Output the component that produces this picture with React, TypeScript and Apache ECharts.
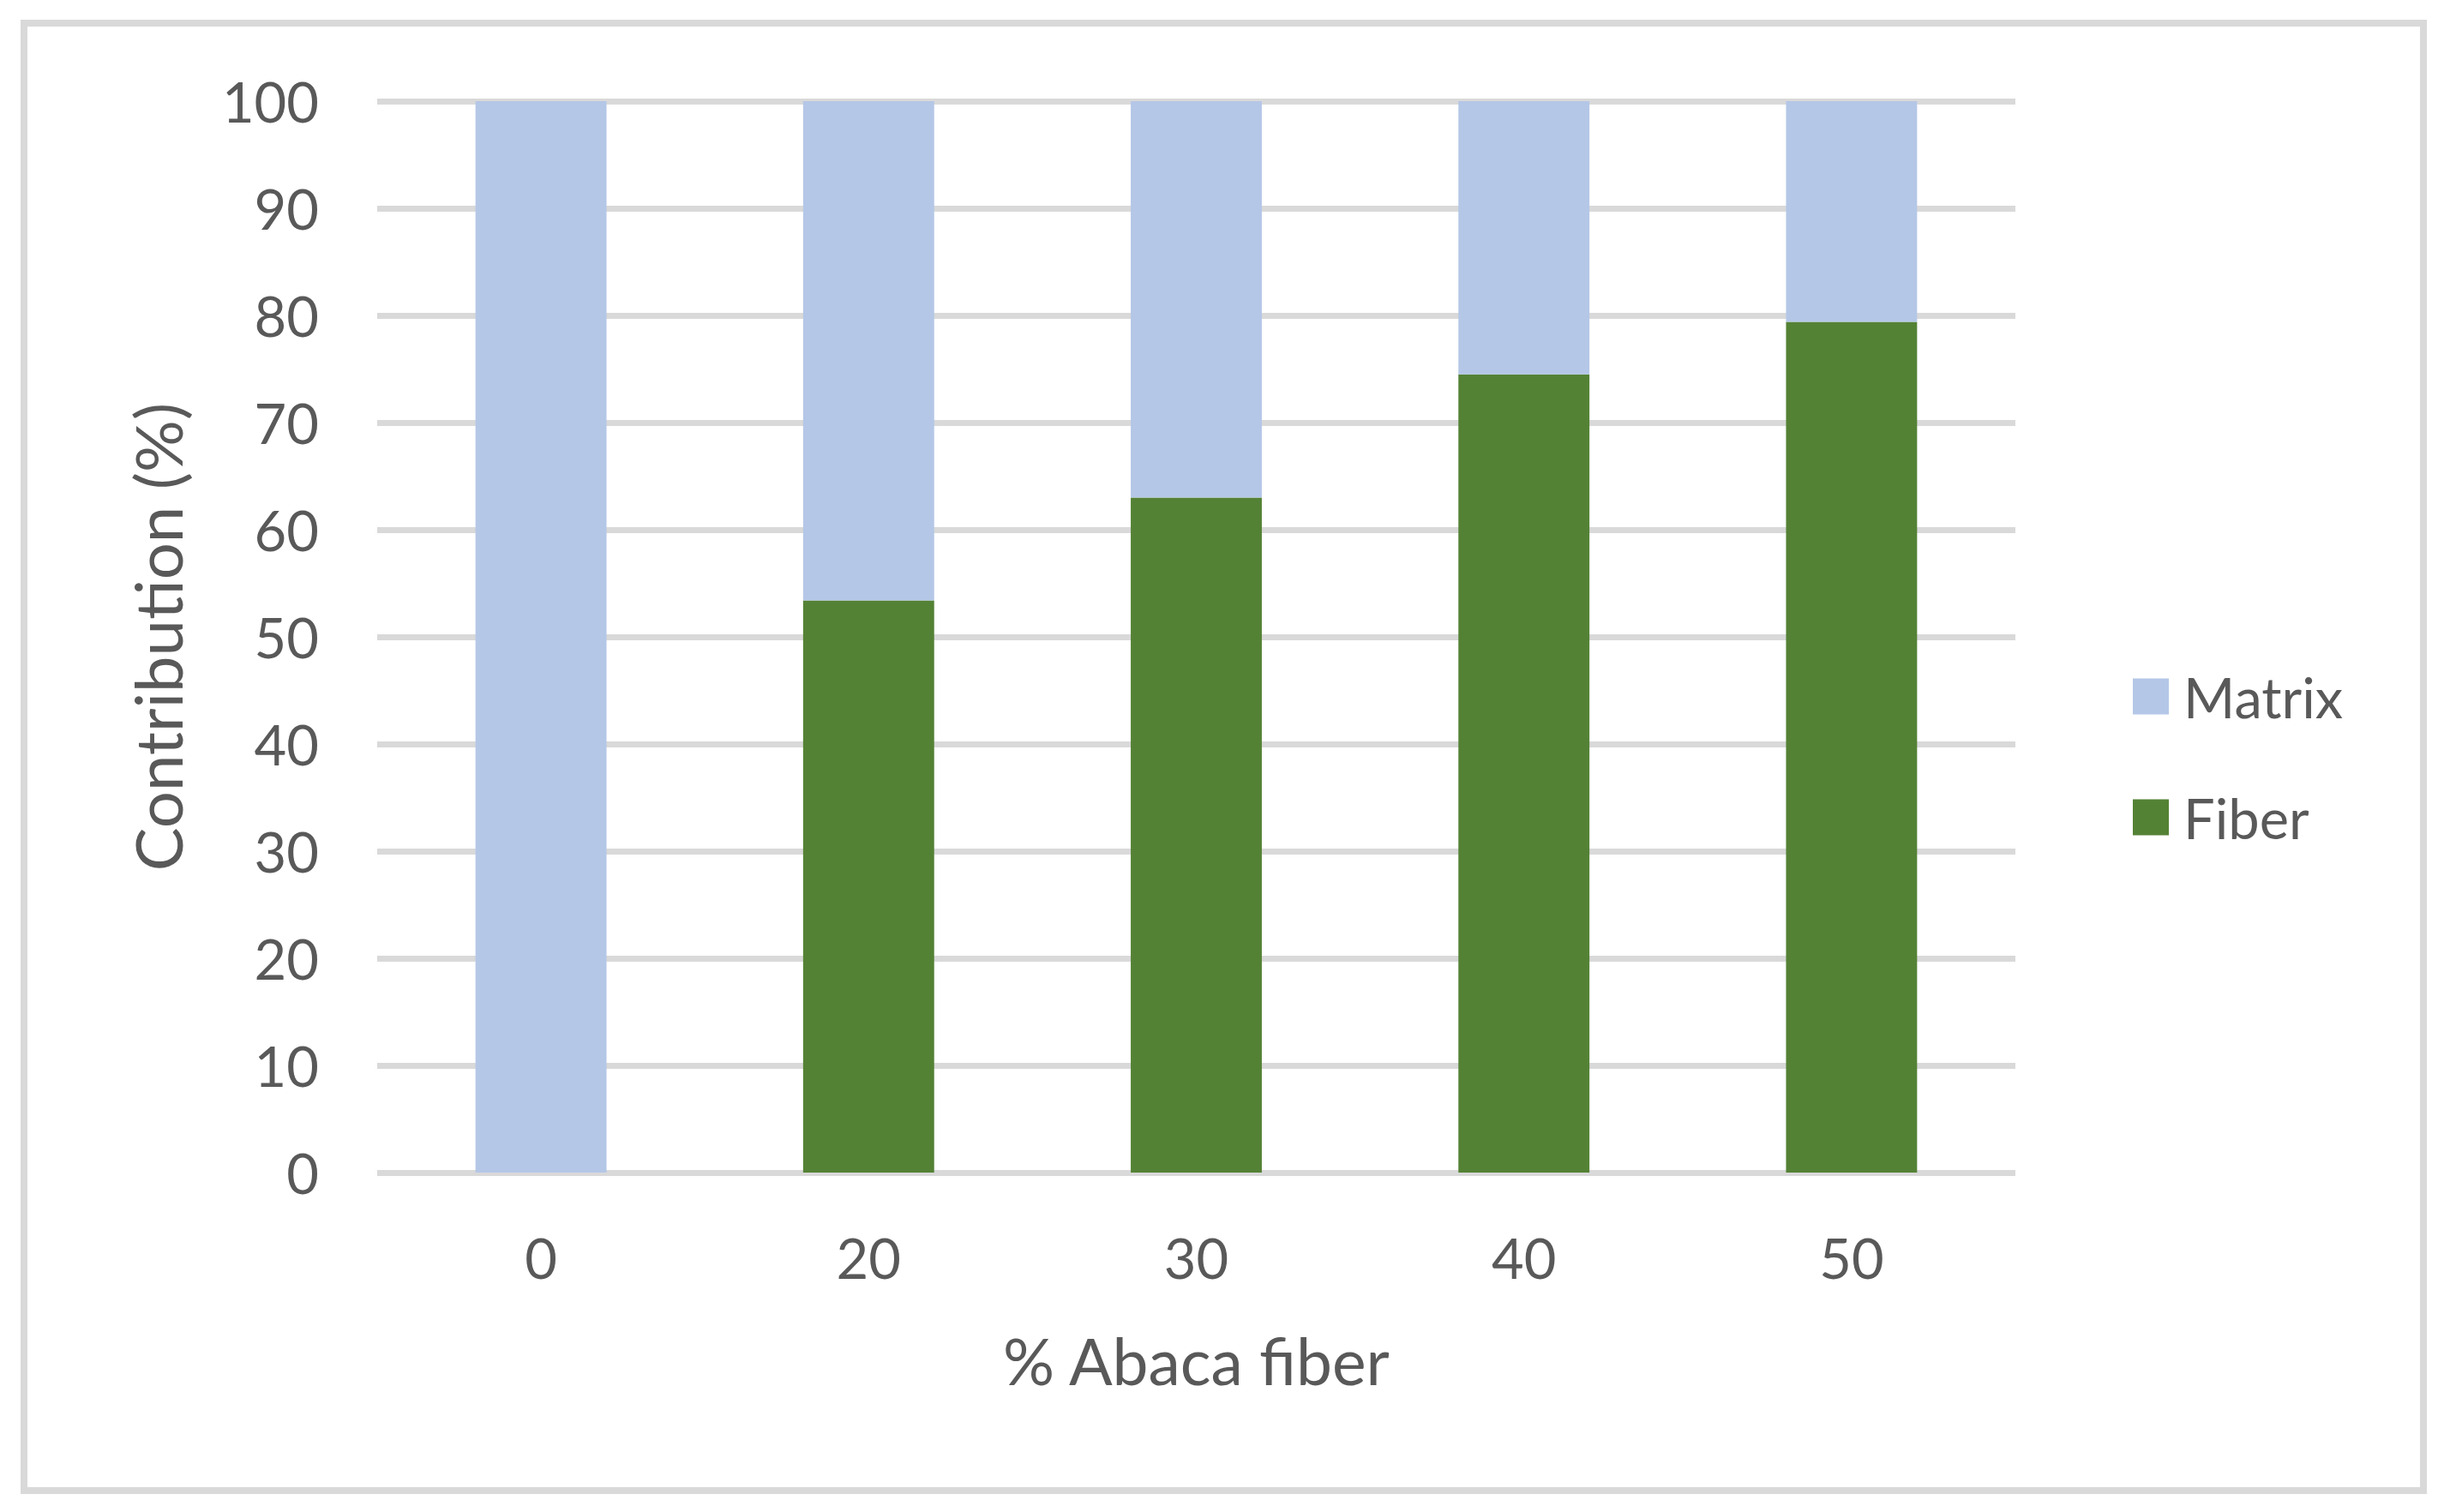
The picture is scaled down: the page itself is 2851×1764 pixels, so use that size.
import React, { useEffect, useRef } from "react";
import * as echarts from "echarts";

const categories = ["0", "20", "30", "40", "50"];
const fiberValues = [0, 53.4, 63.0, 74.5, 79.4];
const matrixValues = [100, 46.6, 37.0, 25.5, 20.6];
const yTicks = { min: 0, max: 100, interval: 10 };

const TEXT = "#595959";
const GRID = "#D9D9D9";
const FONT = "Lato";

export default function App() {
  const ref = useRef<HTMLDivElement>(null);
  useEffect(() => {
    document.body.style.margin = "0";
    const chart = echarts.init(ref.current!, null, { renderer: "svg" });
    chart.setOption({
      animation: false,
      backgroundColor: "#ffffff",
      graphic: [
        {
          type: "rect",
          shape: { x: 28, y: 27, width: 2799, height: 1712 },
          style: { fill: "none", stroke: GRID, lineWidth: 8 },
          z: -10,
        },
      ],
      grid: { left: 440, right: 500, top: 118, bottom: 396, containLabel: false },
      legend: {
        orient: "vertical",
        left: 2483,
        top: 775,
        itemWidth: 42,
        itemHeight: 42,
        itemGap: 76,
        icon: "rect",
        data: ["Matrix", "Fiber"],
        textStyle: { color: TEXT, fontFamily: FONT, fontSize: 65, lineHeight: 42, padding: [0, 0, 0, 12] },
      },
      xAxis: {
        type: "category",
        data: categories,
        axisLine: { show: false },
        axisTick: { show: false },
        axisLabel: { color: TEXT, fontFamily: FONT, fontSize: 65, margin: 66 },
        name: "% Abaca fiber",
        nameLocation: "middle",
        nameGap: 181,
        nameTextStyle: { color: TEXT, fontFamily: FONT, fontSize: 75 },
      },
      yAxis: {
        type: "value",
        min: yTicks.min,
        max: yTicks.max,
        interval: yTicks.interval,
        axisLine: { show: false },
        axisTick: { show: false },
        splitLine: { show: true, lineStyle: { color: GRID, width: 7 } },
        axisLabel: { color: TEXT, fontFamily: FONT, fontSize: 65, margin: 68 },
        name: "Contribution (%)",
        nameLocation: "middle",
        nameRotate: 90,
        nameGap: 219,
        nameTextStyle: { color: TEXT, fontFamily: FONT, fontSize: 76 },
      },
      series: [
        {
          name: "Fiber",
          type: "bar",
          stack: "total",
          data: fiberValues,
          barWidth: "40%",
          itemStyle: { color: "#548235" },
        },
        {
          name: "Matrix",
          type: "bar",
          stack: "total",
          data: matrixValues,
          barWidth: "40%",
          itemStyle: { color: "#B4C7E7" },
        },
      ],
    });
    return () => chart.dispose();
  }, []);
  return (
    <div
      ref={ref}
      style={{ position: "absolute", left: 0, top: 0, width: 2851, height: 1764 }}
    />
  );
}
